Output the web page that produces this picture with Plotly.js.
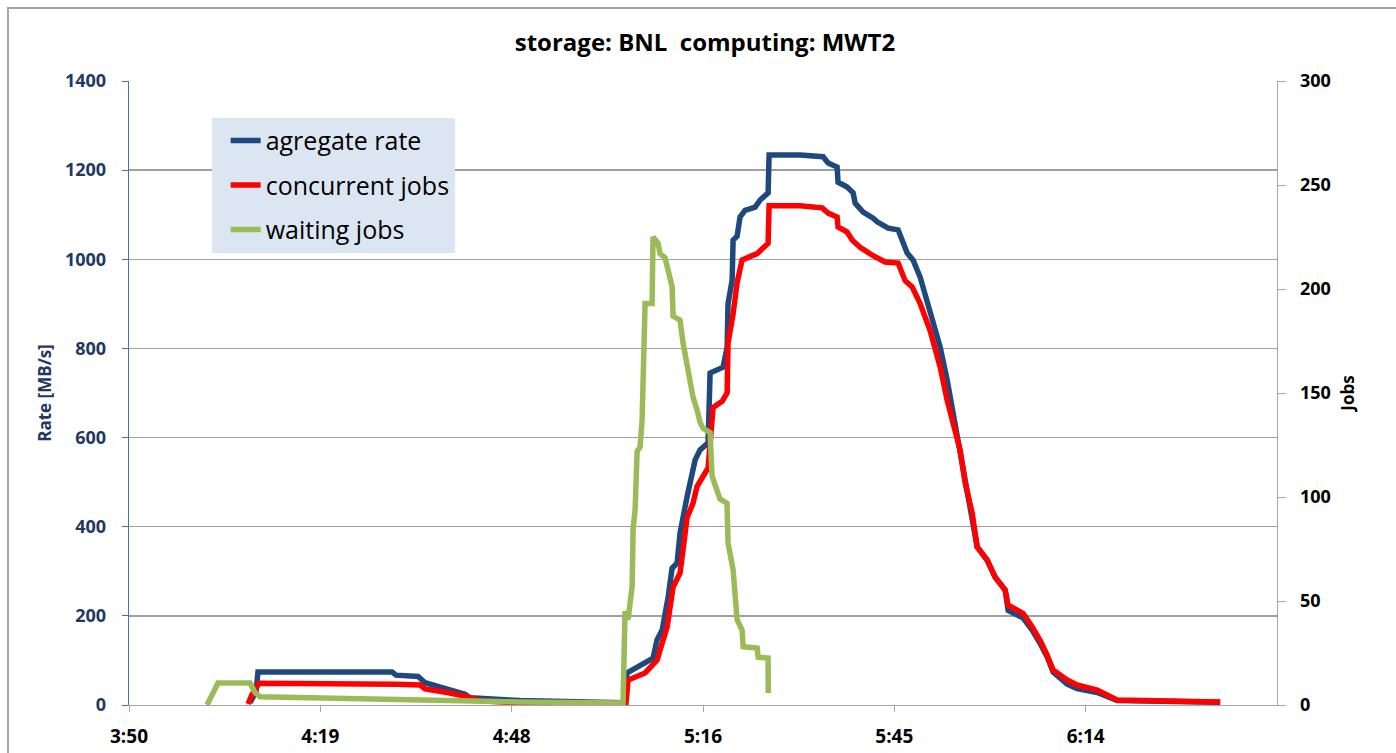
<!DOCTYPE html>
<html>
<head>
<meta charset="utf-8">
<script src="https://cdn.plot.ly/plotly-3.0.1.min.js"></script>
<style>
  html, body { margin: 0; padding: 0; background: #ffffff; }
  #wrap { position: relative; width: 1396px; height: 753px; overflow: hidden; }
  #chart { position: absolute; left: 0; top: 0; width: 1396px; height: 753px; }
  #frame { position: absolute; left: 7px; top: 7px; width: 1400px; height: 760px;
           border-left: 2px solid #a6a6a6; border-top: 2px solid #a6a6a6; pointer-events: none; }
</style>
</head>
<body>
<div id="wrap">
  <div id="chart"></div>
  <div id="frame"></div>
</div>
<script>
// ---- data ----
const DAY = '2012-01-01 ';

// aggregate rate (MB/s), left axis
const rateTimes = ['4:08:37','4:09:31','4:09:49','4:30:00','4:30:36','4:33:55','4:34:58','4:37:58','4:40:59','4:41:44','4:49:16','5:01:19','5:04:55',
  '5:05:22','5:07:47','5:09:17','5:09:53','5:10:39','5:11:33','5:12:09','5:12:54','5:13:21','5:14:24','5:14:51','5:15:37','5:16:21','5:17:34',
  '5:17:52','5:19:50','5:20:26','5:20:34','5:21:11','5:21:20','5:21:56','5:22:23','5:23:08','5:24:39','5:25:24','5:26:36','5:26:45','5:31:25',
  '5:34:53','5:35:38','5:36:59','5:37:08','5:38:30','5:39:24','5:39:42','5:40:54','5:42:25','5:43:01','5:44:40','5:46:10','5:47:32','5:48:26',
  '5:49:29','5:50:59','5:52:30','5:53:33','5:55:03','5:56:16','5:57:19','5:58:04','5:59:34','6:00:46','6:02:17','6:02:44','6:05:00','6:06:21',
  '6:07:33','6:08:36','6:09:30','6:11:37','6:13:07','6:16:08','6:19:08','6:34:39'];
const rateValues = [5,30,74,74,67,64,50,38,24,16,10,6,5,
  72,94,105,146,168,242,307,318,386,467,498,550,572,588,
  745,758,803,900,953,1043,1052,1095,1110,1117,1133,1149,1234,1234,
  1230,1216,1207,1173,1162,1149,1126,1106,1092,1084,1070,1066,1014,998,
  960,886,803,729,610,500,431,355,325,287,258,212,195,168,
  138,108,74,47,37,28,10,6];

// concurrent jobs, right axis
const concTimes = ['4:08:19','4:08:55','4:09:58','4:30:00','4:30:36','4:34:13','4:34:58','4:38:17','4:41:17','4:43:15','4:49:16','5:05:13',
  '5:05:31','5:08:05','5:08:50','5:09:53','5:10:20','5:11:24','5:12:18','5:13:21','5:14:24','5:15:18','5:15:54','5:17:07','5:17:34',
  '5:18:19','5:19:41','5:20:26','5:20:34','5:21:20','5:21:56','5:22:41','5:24:57','5:26:36','5:26:45','5:31:25','5:34:44','5:35:38',
  '5:36:59','5:37:08','5:38:30','5:39:15','5:40:27','5:42:25','5:44:13','5:46:10','5:47:14','5:48:17','5:49:29','5:50:59','5:52:30',
  '5:53:33','5:55:03','5:55:30','5:56:16','5:57:19','5:58:04','5:59:34','6:00:46','6:02:17','6:02:44','6:05:00','6:06:21','6:07:33',
  '6:08:36','6:09:30','6:11:37','6:13:07','6:16:08','6:19:08','6:34:39'];
const concValues = [0.5,5,10.5,10.5,10,9.6,7.7,6,4,2,1,1,
  12,15.4,17.8,21.6,26.4,37.5,56.7,63.5,90,97,105,111.5,114,
  143,146,150,174,188,203,214,217,222,240,240,239,236.5,
  234.6,229.8,227.4,223.6,220,216,213,212.5,204,201,193,180,162.5,
  146.6,129,122.6,106.7,92.3,76,69.7,61.5,55.3,48,44,37.5,31,
  24,16.8,12,9.6,7.2,2.4,1.4];

// waiting jobs, right axis
const waitTimes = ['4:02:09','4:03:48','4:08:37','4:09:22','4:10:07','4:31:12','4:49:16','5:04:46','5:05:04','5:05:31','5:06:08','5:06:17',
  '5:06:35','5:06:53','5:07:20','5:07:38','5:07:47','5:08:05','5:09:08','5:09:17','5:10:02','5:10:20','5:11:06','5:11:33','5:12:09',
  '5:12:18','5:13:21','5:13:48','5:14:33','5:14:51','5:15:18','5:15:54','5:16:21','5:16:49','5:17:52','5:18:10','5:19:22','5:20:25',
  '5:20:34','5:21:20','5:21:56','5:22:41','5:22:50','5:24:57','5:25:06','5:26:36','5:26:37'];
const waitValues = [0,10.6,10.6,6,4,2.5,1.5,1,45,41,57,85,
  94,122,124,137,169,193,193,225,222,217,215,208,201,
  187,185,174,161,155,148,142,136,133,131,110,99,97,
  78,65,41,36,28,27.4,23,22.6,5.8];

const seriesNames = ['agregate rate','concurrent jobs','waiting jobs'];
const xTickTimes = ['3:50:24','4:19:12','4:48:00','5:16:48','5:45:36','6:14:24'];
const xTickLabels = ['3:50','4:19','4:48','5:16','5:45','6:14'];
const xRange = ['3:50:24','6:43:12'];

const toDate = t => DAY + (t.length === 7 ? '0' + t : t);

const FAMILY = 'Open Sans, sans-serif';
const tickFont = (color, size) => ({family: FAMILY, size: size, color: color, weight: 'bold'});

const traces = [
  {x: rateTimes.map(toDate), y: rateValues, name: seriesNames[0], type: 'scatter', mode: 'lines',
   line: {color: '#1f497d', width: 5.5}, yaxis: 'y', legendgroup: 'a'},
  {x: concTimes.map(toDate), y: concValues, name: seriesNames[1], type: 'scatter', mode: 'lines',
   line: {color: '#ff0000', width: 5.5}, yaxis: 'y2', legendgroup: 'b'},
  {x: waitTimes.map(toDate), y: waitValues, name: seriesNames[2], type: 'scatter', mode: 'lines',
   line: {color: '#9bbb59', width: 5.5}, yaxis: 'y2', legendgroup: 'c'}
];

const layout = {
  width: 1396, height: 753,
  margin: {l: 129, r: 119, t: 81, b: 48, pad: 0},
  paper_bgcolor: '#ffffff', plot_bgcolor: '#ffffff',
  title: {text: 'storage: BNL  computing: MWT2', x: 0.505, xanchor: 'center', y: 0.944, yanchor: 'middle',
          font: {family: FAMILY, size: 24, color: '#000000', weight: 'bold'}},
  showlegend: true,
  legend: {x: 0.072, y: 0.941, xanchor: 'left', yanchor: 'top', bgcolor: '#dce6f2', borderwidth: 0,
           font: {family: FAMILY, size: 25, color: '#000000'}, indentation: 14,
           entrywidth: 255, entrywidthmode: 'pixels',
           traceorder: 'grouped', tracegroupgap: 9, itemwidth: 30},
  xaxis: {type: 'date', range: xRange.map(toDate), tickmode: 'array', tickvals: xTickTimes.map(toDate),
          ticktext: xTickLabels, showgrid: false, zeroline: false, showline: true, linecolor: '#a6a6a6', linewidth: 1,
          ticks: 'outside', ticklen: 6, tickcolor: '#a6a6a6', tickfont: tickFont('#000000', 19), ticklabelstandoff: 8},
  yaxis: {range: [0, 1400], dtick: 200, tick0: 0, showgrid: true, gridcolor: '#a0a0a0', gridwidth: 1.3,
          zeroline: false, showline: true, linecolor: '#4a6fa5', linewidth: 1.3,
          ticks: 'outside', ticklen: 6, tickcolor: '#4a6fa5', tickfont: tickFont('#1f3864', 18), ticklabelstandoff: 12,
          title: {text: 'Rate [MB/s]', standoff: 9, font: {family: FAMILY, size: 17, color: '#1f3864', weight: 'bold'}}},
  yaxis2: {range: [0, 300], dtick: 50, tick0: 0, overlaying: 'y', side: 'right', showgrid: false, zeroline: false,
           showline: true, linecolor: '#a6a6a6', linewidth: 1.3, ticks: 'outside', ticklen: 8, tickcolor: '#a6a6a6',
           tickfont: tickFont('#000000', 18), ticklabelstandoff: 10,
           title: {text: 'Jobs', standoff: 12, font: {family: FAMILY, size: 17, color: '#000000', weight: 'bold'}}}
};

Plotly.newPlot('chart', traces, layout, {displayModeBar: false, staticPlot: true});
</script>
</body>
</html>
